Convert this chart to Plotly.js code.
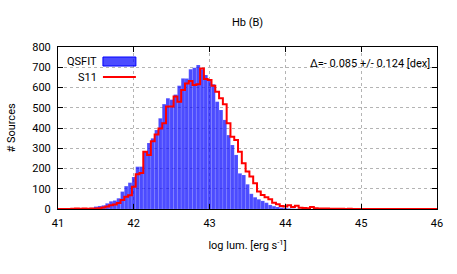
<!DOCTYPE html>
<html>
<head>
<meta charset="utf-8">
<script src="https://cdn.plot.ly/plotly-3.0.1.min.js"></script>
<style>html,body{margin:0;padding:0;background:#fff;}#chart{width:457px;height:274px;}</style>
</head>
<body>
<div id="chart"></div>
<script>
// Histogram bins: centres start at 41.00, width 0.05 dex (101 bins up to 46.00)
const binStart = 41.0;
const binWidth = 0.05;

// QSFIT counts per bin (blue filled histogram)
const qsfitCounts = [
  0,0,0,0,0, 1,1,2,3,6,
  12,15,18,28,38, 42,53,86,113,130,
  158,209,209,283,326, 349,390,448,518,547,
  540,565,609,645,645, 690,698,711,690,662,
  632,616,530,489,440, 365,316,267,176,168,
  122,75,58,48,40, 31,20,14,10,7,
  5,3,2,1,1, 0,1,0,0,0,
  0,0,0,0,0, 0,0,0,0,0,
  0,0,0,0,0, 0,0,0,0,0,
  0,0,0,0,0, 0,0,0,0,0,
  0
];

// S11 counts per bin (red step line)
const s11Counts = [
  0,0,0,0,1, 2,1,2,1,2,
  3,4,8,12,18, 22,30,44,60,68,
  110,172,178,283,267, 335,368,398,423,506,
  506,555,530,588,620, 632,612,616,694,642,
  637,609,579,547,517, 423,357,341,283,226,
  185,160,127,86,69, 58,48,31,23,15,
  12,18,10,16,6, 5,4,10,4,3,
  2,2,1,1,1, 1,0,1,0,0,
  0,0,0,0,0, 0,0,0,0,0,
  0,0,0,0,0, 0,0,0,0,0,
  0
];

const seriesNames = ['QSFIT', 'S11'];
const chartTitle = 'Hb (B)';
const xTitle = 'log lum. [erg s<sup>-1</sup>]';
const yTitle = '# Sources';
const statText = '\u0394=- 0.085 +/- 0.124 [dex]';

const centers = qsfitCounts.map((_, i) => +(binStart + binWidth * i).toFixed(3));

// plot area in pixels (for placing legend-like items)
const L = 58, R = 437.5, T = 47, B = 209;
const px2x = p => (p - L) / (R - L);
const py2y = p => (B - p) / (B - T);

const FONT = 'Roboto, "Open Sans", sans-serif';

const traces = [
  {
    type: 'bar', x: centers, y: qsfitCounts, width: binWidth, name: seriesNames[0],
    marker: {color: 'rgba(0,0,255,0.7)', line: {color: 'rgba(255,255,255,0.18)', width: 0.6}},
    hoverinfo: 'skip'
  },
  {
    type: 'scatter', mode: 'lines', x: centers, y: s11Counts, name: seriesNames[1],
    line: {color: '#ff0000', width: 2, shape: 'hvh'}, hoverinfo: 'skip'
  }
];

const axisCommon = {
  showline: true, linecolor: '#000', linewidth: 1, mirror: 'allticks',
  ticks: 'inside', ticklen: 5, tickcolor: '#000', tickwidth: 1,
  showgrid: true, gridcolor: '#b4b4b4', griddash: 'dot', gridwidth: 1,
  zeroline: false, tickfont: {family: FONT, size: 11, color: '#000'}
};

const layout = {
  width: 457, height: 274,
  margin: {l: L, r: 457 - R, t: T, b: 274 - B},
  paper_bgcolor: '#fff', plot_bgcolor: '#fff',
  showlegend: false, bargap: 0,
  font: {family: FONT, size: 11, color: '#000'},
  title: {text: chartTitle, font: {family: FONT, size: 11, color: '#000'},
          xref: 'paper', x: 0.5, xanchor: 'center', yref: 'container', y: 1 - 22 / 274, yanchor: 'middle'},
  xaxis: Object.assign({}, axisCommon, {
    range: [41, 46], tick0: 41, dtick: 1, ticklabelstandoff: 4,
    title: {text: xTitle, font: {family: FONT, size: 11, color: '#000'}, standoff: 12}
  }),
  yaxis: Object.assign({}, axisCommon, {
    range: [0, 800], tick0: 0, dtick: 100, ticklabelstandoff: 4,
    title: {text: yTitle, font: {family: FONT, size: 11, color: '#000'}, standoff: 14}
  }),
  annotations: [
    {xref: 'paper', yref: 'paper', x: px2x(99), y: py2y(62), text: seriesNames[0], showarrow: false,
     xanchor: 'right', yanchor: 'middle', font: {family: FONT, size: 11, color: '#000'}},
    {xref: 'paper', yref: 'paper', x: px2x(99), y: py2y(77), text: seriesNames[1], showarrow: false,
     xanchor: 'right', yanchor: 'middle', font: {family: FONT, size: 11, color: '#000'}},
    {xref: 'paper', yref: 'paper', x: px2x(432), y: py2y(63), text: statText, showarrow: false,
     xanchor: 'right', yanchor: 'middle', font: {family: FONT, size: 11, color: '#000'}}
  ],
  shapes: [
    {type: 'rect', xref: 'paper', yref: 'paper', x0: px2x(103), x1: px2x(136), y0: py2y(57), y1: py2y(66),
     fillcolor: 'rgba(0,0,255,0.7)', line: {color: '#0000ff', width: 1}},
    {type: 'line', xref: 'paper', yref: 'paper', x0: px2x(103), x1: px2x(136), y0: py2y(77), y1: py2y(77),
     line: {color: '#ff0000', width: 2}}
  ]
};

Plotly.newPlot('chart', traces, layout, {staticPlot: true, displayModeBar: false});
</script>
</body>
</html>
